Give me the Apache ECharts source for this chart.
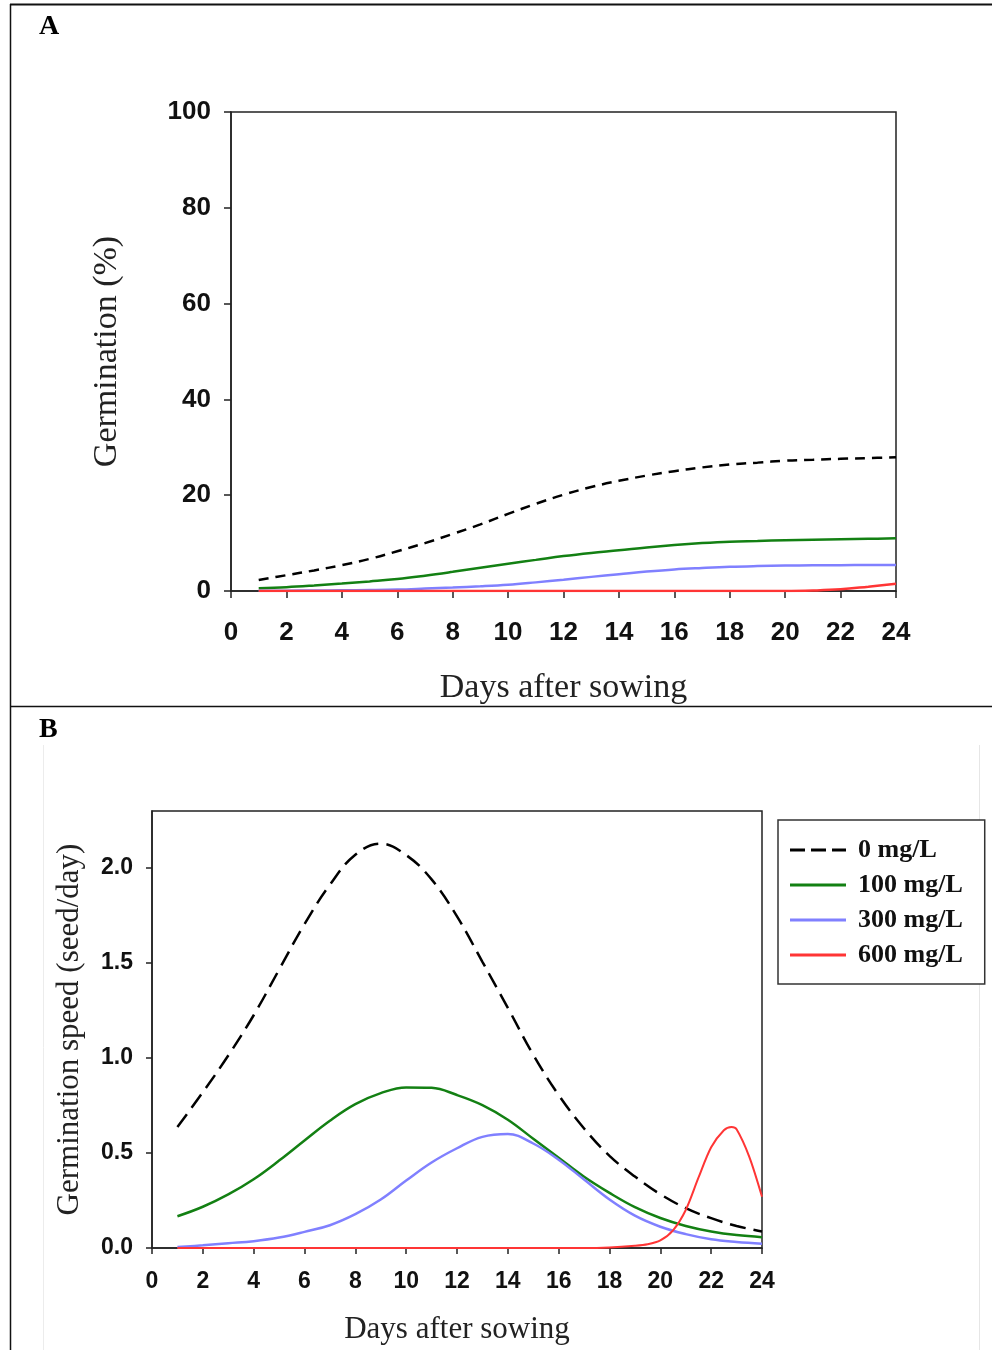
<!DOCTYPE html>
<html>
<head>
<meta charset="utf-8">
<script src="https://cdn.jsdelivr.net/npm/echarts@6/dist/echarts.min.js"></script>
<style>
html,body{margin:0;padding:0;background:#fff;}
#chart{width:992px;height:1350px;}
</style>
</head>
<body>
<div id="chart"></div>
<script>
// ---------- Data ----------
const seriesNames = ['0 mg/L', '100 mg/L', '300 mg/L', '600 mg/L'];
const xTicks = [0, 2, 4, 6, 8, 10, 12, 14, 16, 18, 20, 22, 24];
const yTicksA = [0, 20, 40, 60, 80, 100];
const yTicksB = [0, 0.5, 1.0, 1.5, 2.0];

// Panel A: cumulative germination (%)
const daysA = [1,2,3,4,5,6,7,8,9,10,11,12,13,14,15,16,17,18,19,20,21,22,23,24];
const germ0   = [2.3,3.3,4.3,5.4,6.7,8.3,10.0,11.9,13.9,16.1,18.2,20.1,21.7,23.0,24.1,25.0,25.8,26.4,26.8,27.2,27.4,27.6,27.75,27.9];
const germ100 = [0.56,0.8,1.15,1.55,2.0,2.5,3.2,4.0,4.85,5.7,6.5,7.3,7.95,8.5,9.1,9.6,10.0,10.3,10.45,10.6,10.7,10.8,10.9,11.0];
const germ300 = [0.05,0.07,0.1,0.14,0.2,0.3,0.5,0.72,0.97,1.3,1.8,2.35,2.95,3.5,4.05,4.5,4.8,5.05,5.2,5.3,5.36,5.4,5.42,5.43];
const germ600 = [0,0,0,0,0,0,0,0,0,0,0,0,0,0,0,0,0,0,0,0,0.1,0.35,0.9,1.5];

// Panel B: germination speed (seed/day)
const daysB = [1,2,3,4,5,6,7,8,9,10,11,12,13,14,15,16,17,18,19,20,21,22,23,24];
const speed0   = [0.637,0.82,1.013,1.225,1.465,1.705,1.912,2.07,2.128,2.068,1.94,1.745,1.506,1.264,1.017,0.805,0.629,0.485,0.376,0.283,0.21,0.157,0.116,0.087];
const speed100 = [0.167,0.217,0.282,0.362,0.46,0.566,0.67,0.757,0.815,0.845,0.843,0.805,0.752,0.675,0.575,0.475,0.375,0.29,0.215,0.158,0.116,0.087,0.068,0.057];
const speed300 = [0.005,0.014,0.025,0.036,0.055,0.085,0.12,0.178,0.255,0.355,0.45,0.525,0.585,0.6,0.55,0.465,0.36,0.255,0.17,0.112,0.073,0.046,0.032,0.023];
const daysRed  = [1,17,18,19,19.5,20,20.5,21,21.5,22,22.5,22.8,23,23.5,24];
const speed600 = [0,0,0.003,0.012,0.02,0.04,0.093,0.2,0.37,0.53,0.62,0.637,0.625,0.48,0.27];

// ---------- Build ----------
const pair = (xs, ys) => xs.map((x, i) => [x, ys[i]]);
const colors = ['#000000', '#138013', '#8080ff', '#ff3535'];
const tickFont = {fontFamily: 'Liberation Sans', fontWeight: 'bold', color: '#111'};
const titleFont = {fontFamily: 'Liberation Serif', color: '#222'};
const axisLine = {show: true, lineStyle: {color: '#222', width: 1.5}};
const iconSolid = 'path://M0,0H56V3H0Z';
const iconDash = 'path://M0,0H15V3H0Z M21,0H36V3H21Z M42,0H56V3H42Z';

const chart = echarts.init(document.getElementById('chart'), null, {renderer: 'canvas'});

const option = {
  backgroundColor: '#ffffff',
  animation: false,
  grid: [
    {left: 231, right: 96, top: 112, bottom: 759, show: true, borderColor: '#222', borderWidth: 1.5, backgroundColor: 'transparent'},
    {left: 152, right: 230, top: 811, bottom: 102, show: true, borderColor: '#222', borderWidth: 1.5, backgroundColor: 'transparent'}
  ],
  xAxis: [
    {gridIndex: 0, type: 'value', min: 0, max: 24, interval: 2,
     axisLine: axisLine, splitLine: {show: false},
     axisTick: {show: true, inside: false, length: 7, lineStyle: {color: '#222', width: 1.5}},
     axisLabel: Object.assign({fontSize: 26, margin: 29}, tickFont),
     name: 'Days after sowing', nameLocation: 'middle', nameGap: 80,
     nameTextStyle: Object.assign({fontSize: 34}, titleFont)},
    {gridIndex: 1, type: 'value', min: 0, max: 24, interval: 2,
     axisLine: axisLine, splitLine: {show: false},
     axisTick: {show: true, inside: false, length: 6, lineStyle: {color: '#222', width: 1.5}},
     axisLabel: Object.assign({fontSize: 23, margin: 22}, tickFont),
     name: 'Days after sowing', nameLocation: 'middle', nameGap: 66,
     nameTextStyle: Object.assign({fontSize: 31}, titleFont)}
  ],
  yAxis: [
    {gridIndex: 0, type: 'value', min: 0, max: 100, interval: 20,
     axisLine: axisLine, splitLine: {show: false},
     axisTick: {show: true, inside: false, length: 7, lineStyle: {color: '#222', width: 1.5}, customValues: yTicksA},
     axisLabel: Object.assign({fontSize: 26, margin: 20, customValues: yTicksA}, tickFont),
     name: 'Germination (%)', nameLocation: 'middle', nameGap: 107,
     nameTextStyle: Object.assign({fontSize: 34}, titleFont)},
    {gridIndex: 1, type: 'value', min: 0, max: 2.3, interval: 0.5,
     axisLine: axisLine, splitLine: {show: false},
     axisTick: {show: true, inside: false, length: 6, lineStyle: {color: '#222', width: 1.5}, customValues: yTicksB},
     axisLabel: Object.assign({fontSize: 23, margin: 19, customValues: yTicksB,
       formatter: v => v.toFixed(1)}, tickFont),
     name: 'Germination speed (seed/day)', nameLocation: 'middle', nameGap: 67,
     nameTextStyle: Object.assign({fontSize: 31}, titleFont)}
  ],
  legend: {
    data: [
      {name: seriesNames[0], icon: iconDash},
      {name: seriesNames[1], icon: iconSolid},
      {name: seriesNames[2], icon: iconSolid},
      {name: seriesNames[3], icon: iconSolid}
    ],
    orient: 'vertical',
    left: 778, top: 820,
    padding: [17, 22, 16, 12],
    itemWidth: 56, itemHeight: 3, itemGap: 9,
    borderColor: '#333', borderWidth: 1.5, backgroundColor: '#fff',
    textStyle: {fontFamily: 'Liberation Serif', fontWeight: 'bold', fontSize: 26, color: '#111', padding: [0, 0, 0, 7]}
  },
  series: [
    {name: seriesNames[0], type: 'line', xAxisIndex: 0, yAxisIndex: 0, data: pair(daysA, germ0), smooth: 0.4, symbol: 'none',
     lineStyle: {color: colors[0], width: 2.5, type: [10, 7]}, itemStyle: {color: colors[0]}},
    {name: seriesNames[1], type: 'line', xAxisIndex: 0, yAxisIndex: 0, data: pair(daysA, germ100), smooth: 0.4, symbol: 'none',
     lineStyle: {color: colors[1], width: 2.5}, itemStyle: {color: colors[1]}},
    {name: seriesNames[2], type: 'line', xAxisIndex: 0, yAxisIndex: 0, data: pair(daysA, germ300), smooth: 0.4, symbol: 'none',
     lineStyle: {color: colors[2], width: 2.5}, itemStyle: {color: colors[2]}},
    {name: seriesNames[3], type: 'line', xAxisIndex: 0, yAxisIndex: 0, data: pair(daysA, germ600), smooth: 0.4, symbol: 'none',
     lineStyle: {color: colors[3], width: 2.5}, itemStyle: {color: colors[3]}},

    {name: seriesNames[0], type: 'line', xAxisIndex: 1, yAxisIndex: 1, data: pair(daysB, speed0), smooth: 0.4, symbol: 'none',
     lineStyle: {color: colors[0], width: 2.5, type: [16, 8]}, itemStyle: {color: colors[0]}},
    {name: seriesNames[1], type: 'line', xAxisIndex: 1, yAxisIndex: 1, data: pair(daysB, speed100), smooth: 0.4, symbol: 'none',
     lineStyle: {color: colors[1], width: 2.5}, itemStyle: {color: colors[1]}},
    {name: seriesNames[2], type: 'line', xAxisIndex: 1, yAxisIndex: 1, data: pair(daysB, speed300), smooth: 0.4, symbol: 'none',
     lineStyle: {color: colors[2], width: 2.5}, itemStyle: {color: colors[2]}},
    {name: seriesNames[3], type: 'line', xAxisIndex: 1, yAxisIndex: 1, data: pair(daysRed, speed600), smooth: 0.3, symbol: 'none',
     lineStyle: {color: colors[3], width: 2}, itemStyle: {color: colors[3]}}
  ],
  graphic: [
    // outer frame lines
    {type: 'line', silent: true, shape: {x1: 10, y1: 4.5, x2: 992, y2: 4.5}, style: {stroke: '#111', lineWidth: 2}},
    {type: 'line', silent: true, shape: {x1: 10.5, y1: 4, x2: 10.5, y2: 1350}, style: {stroke: '#111', lineWidth: 1.5}},
    {type: 'line', silent: true, shape: {x1: 10, y1: 706.5, x2: 992, y2: 706.5}, style: {stroke: '#111', lineWidth: 1.5}},
    // faint image edge lines in panel B
    {type: 'line', silent: true, shape: {x1: 43.5, y1: 745, x2: 43.5, y2: 1350}, style: {stroke: '#ececec', lineWidth: 1}},
    {type: 'line', silent: true, shape: {x1: 979.5, y1: 745, x2: 979.5, y2: 1350}, style: {stroke: '#e6e6e6', lineWidth: 1}},
    // panel labels
    {type: 'text', left: 39, top: 13, style: {text: 'A', font: 'bold 28px "Liberation Serif"', fill: '#000'}},
    {type: 'text', left: 39, top: 716, style: {text: 'B', font: 'bold 28px "Liberation Serif"', fill: '#000'}}
  ]
};
chart.setOption(option);
</script>
</body>
</html>
